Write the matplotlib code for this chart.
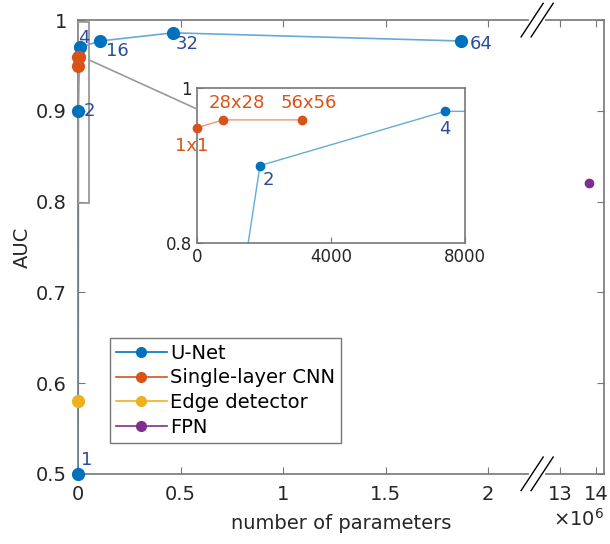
import numpy as np
import matplotlib
matplotlib.use("Agg")
import matplotlib.pyplot as plt
from matplotlib.patches import Rectangle, ConnectionPatch

# U-Net (base filters -> parameters, AUC)
unet_labels = ["1", "2", "4", "16", "32", "64"]
unet_params = [470, 1880, 7400, 107000, 463000, 1868000]
unet_auc = [0.50, 0.90, 0.97, 0.977, 0.986, 0.977]

# single-layer CNN (kernel size)
cnn_labels = ["1x1", "28x28", "56x56"]
cnn_params = [1, 784, 3136]
cnn_auc = [0.949, 0.959, 0.959]

edge_params = [0]
edge_auc = [0.58]

fpn_params = [13.8e6]
fpn_auc = [0.82]

xticks = [0, 0.5e6, 1e6, 1.5e6, 2e6, 13e6, 14e6]
xticklabels = ["0", "0.5", "1", "1.5", "2", "13", "14"]

c_unet = "#0072BD"
c_cnn = "#D95319"
c_edge = "#EDB120"
c_fpn = "#7E2F8E"
c_txt = "#2B4C9B"
c_axis = "#777777"
c_lab = "#262626"

# broken x axis through a piecewise scale
B = 2.24e6
R0 = 12.37e6
k = 0.1756


def fwd(x):
    x = np.asarray(x, dtype=float)
    return np.where(x <= B, x, np.where(x < R0, B, B + (x - R0) * k))


def inv(y):
    y = np.asarray(y, dtype=float)
    return np.where(y <= B, y, R0 + (y - B) / k)


plt.rcParams["font.family"] = "DejaVu Sans"

fig = plt.figure(figsize=(6.1, 5.44), dpi=100)
ax = fig.add_axes([0.128, 0.129, 0.862, 0.834])
ax.set_xscale("function", functions=(fwd, inv))

ax.plot(unet_params, unet_auc, "-", color=c_unet, alpha=0.6, lw=1.2)
ax.plot(unet_params, unet_auc, "o", color=c_unet, ms=8.5, clip_on=False, zorder=5)
ax.plot(cnn_params, cnn_auc, "-", color=c_cnn, alpha=0.6, lw=1.2)
ax.plot(cnn_params, cnn_auc, "o", color=c_cnn, ms=8.5, clip_on=False, zorder=5)
ax.plot(edge_params, edge_auc, "o", color=c_edge, ms=8.5, clip_on=False, zorder=5)
ax.plot(fpn_params, fpn_auc, "o", color=c_fpn, ms=6)

# legend handles
ax.plot([], [], "-o", color=c_unet, ms=7, lw=1.2, label="U-Net")
ax.plot([], [], "-o", color=c_cnn, ms=7, lw=1.2, label="Single-layer CNN")
ax.plot([], [], "-o", color=c_edge, ms=7, lw=1.2, label="Edge detector")
ax.plot([], [], "-o", color=c_fpn, ms=7, lw=1.2, label="FPN")

ax.set_xlim(0, 14.22e6)
ax.set_ylim(0.5, 1.0)
ax.set_xticks(xticks)
ax.set_xticklabels(xticklabels)
ax.set_yticks([0.5, 0.6, 0.7, 0.8, 0.9, 1.0])
ax.set_yticklabels(["0.5", "0.6", "0.7", "0.8", "0.9", "1"])
ax.tick_params(direction="in", top=True, right=True, length=5, color=c_axis,
               labelsize=14, labelcolor=c_lab)
ax.tick_params(axis="x", pad=8)
ax.tick_params(axis="y", pad=8)
for s in ax.spines.values():
    s.set_color(c_axis)
    s.set_linewidth(1.2)
ax.set_xlabel("number of parameters", fontsize=14, color=c_lab, labelpad=7)
ax.set_ylabel("AUC", fontsize=14, color=c_lab, labelpad=3)
ax.text(1.0, -0.1, r"$\times10^6$", transform=ax.transAxes, ha="right",
        va="center", fontsize=14, color=c_lab)

# point labels (main)
offs = {"1": (2, 10), "2": (4, 0), "4": (-1, 7), "16": (4, -7),
        "32": (2, -8), "64": (6, -2)}
for lab, xv, yv in zip(unet_labels, unet_params, unet_auc):
    dx, dy = offs[lab]
    ax.annotate(lab, (xv, yv), xytext=(dx, dy), textcoords="offset points",
                ha="left", va="center", fontsize=13, color=c_txt, zorder=6)

# break marks
for yb in (0.0, 1.0):
    ax.plot([0.862, 0.884], [yb, yb], color="white", lw=3,
            transform=ax.transAxes, clip_on=False, zorder=5)
    for off in (-0.0095, 0.0095):
        xc = 0.873 + off
        ax.plot([xc - 0.021, xc + 0.021], [yb - 0.037, yb + 0.037],
                color="black", lw=1, transform=ax.transAxes,
                clip_on=False, zorder=6)

ax.legend(loc="upper left", bbox_to_anchor=(0.061, 0.30), fontsize=14,
          fancybox=False, edgecolor=c_axis, framealpha=1, handlelength=2.6,
          labelspacing=0.3, borderpad=0.3, handletextpad=0.2,
          borderaxespad=0)

# zoom rectangle
ax.add_patch(Rectangle((0, 0.798), 55000, 0.2, fill=False, ec="#999999",
                       lw=1.3, zorder=4))

# inset
ins = fig.add_axes([0.323, 0.553, 0.439, 0.285])
ins.plot(unet_params, unet_auc, "-", color=c_unet, alpha=0.6, lw=1)
ins.plot(unet_params, unet_auc, "o", color=c_unet, ms=6)
ins.plot(cnn_params, cnn_auc, "-", color=c_cnn, alpha=0.6, lw=1)
ins.plot(cnn_params, cnn_auc, "o", color=c_cnn, ms=6, clip_on=False, zorder=5)
ins.set_xlim(0, 8000)
ins.set_ylim(0.8, 1.0)
ins.set_xticks([0, 4000, 8000])
ins.set_yticks([0.8, 1.0])
ins.set_yticklabels(["0.8", "1"])
ins.tick_params(direction="in", length=4, color=c_axis, labelsize=12,
                labelcolor=c_lab)
for s in ins.spines.values():
    s.set_color(c_axis)
    s.set_linewidth(1.2)

ins_offs = {"2": (2, -10), "4": (-4, -13)}
for lab, xv, yv in zip(unet_labels, unet_params, unet_auc):
    if lab in ins_offs:
        dx, dy = ins_offs[lab]
        ins.annotate(lab, (xv, yv), xytext=(dx, dy), textcoords="offset points",
                     ha="left", va="center", fontsize=13, color=c_txt)
cnn_offs = {"1x1": (-4, -13), "28x28": (10, 12), "56x56": (5, 12)}
for lab, xv, yv in zip(cnn_labels, cnn_params, cnn_auc):
    dx, dy = cnn_offs[lab]
    ins.annotate(lab, (xv, yv), xytext=(dx, dy), textcoords="offset points",
                 ha="center", va="center", fontsize=13, color=c_cnn)

con = ConnectionPatch(xyA=(55000, 0.956), coordsA=ax.transData,
                      xyB=(0, 0.973), coordsB=ins.transData,
                      color="#999999", lw=1.2)
fig.add_artist(con)

fig.savefig("out.png", dpi=100)
